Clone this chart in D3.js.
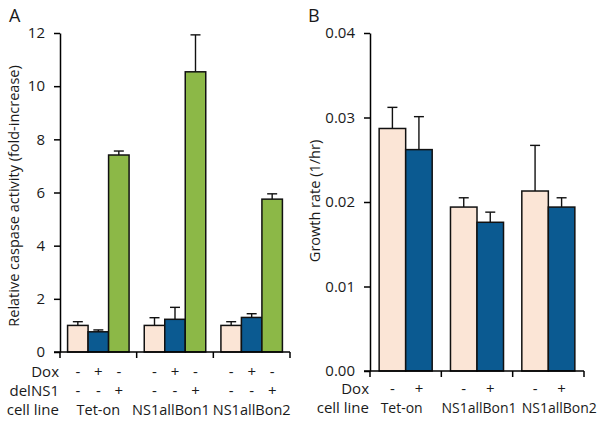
<html>
<head>
<script src="https://d3js.org/d3.v7.min.js"></script>
<style>
body{margin:0;background:#fff;}
text{font-family:"Open Sans",sans-serif;fill:#1a1a1a;}
</style>
</head>
<body>
<script>
// panel A data
var groups=["Tet-on","NS1allBon1","NS1allBon2"];
var doxA=["-","+","-"];
var delNS1=["-","-","+"];
var caspase=[[1.0,0.76,7.41],[1.0,1.23,10.54],[1.0,1.30,5.75]];
var caspaseErr=[[0.14,0.07,0.15],[0.29,0.45,1.39],[0.14,0.14,0.20]];
var ticksA=[0,2,4,6,8,10,12];
// panel B data
var doxB=["-","+"];
var growth=[[0.0287,0.0262],[0.0194,0.0176],[0.0213,0.0194]];
var growthErr=[[0.0025,0.0039],[0.0011,0.0012],[0.0054,0.0011]];
var ticksB=[0,0.01,0.02,0.03,0.04];

var colors=["#FBE5D6","#0B5A91","#8CB847"];

var svg=d3.select("body").append("svg").attr("width",599).attr("height",423);

function panel(o){
	var g=svg.append("g");
	var y=d3.scaleLinear().domain(o.domain).range([o.y0,o.y1]);
	var x=d3.scaleBand().domain(groups).range([o.x0,o.x1]);
	var inner=d3.scaleBand().domain(d3.range(o.data[0].length)).range([0,x.bandwidth()]).paddingOuter(o.pad);

	// bars
	groups.forEach(function(gname,gi){
		var gg=g.append("g").attr("transform","translate("+x(gname)+",0)");
		o.data[gi].forEach(function(v,i){
			var bx=inner(i),bw=inner.bandwidth(),cx=bx+bw/2;
			var top=y(v+o.err[gi][i]);
			gg.append("line").attr("x1",cx).attr("x2",cx).attr("y1",y(v)).attr("y2",top)
				.attr("stroke","#111").attr("stroke-width",1.4);
			gg.append("line").attr("x1",cx-5).attr("x2",cx+5).attr("y1",top).attr("y2",top)
				.attr("stroke","#111").attr("stroke-width",1.4);
			gg.append("rect").attr("x",bx).attr("width",bw).attr("y",y(v)).attr("height",y(0)-y(v))
				.attr("fill",colors[i]).attr("stroke","#111").attr("stroke-width",1.5);
		});
	});

	// axes
	var yAxis=d3.axisLeft(y).tickValues(o.ticks).tickFormat(o.fmt).tickSize(6).tickSizeOuter(0).tickPadding(9);
	var ya=g.append("g").attr("transform","translate("+o.x0+",0)").call(yAxis);
	ya.selectAll("path,line").attr("stroke","#000").attr("stroke-width",1.5);
	ya.selectAll("text").style("font-size","15px").attr("fill","#1a1a1a");

	var xa=g.append("g").attr("transform","translate(0,"+o.y0+")");
	xa.append("line").attr("x1",o.x0-6).attr("x2",o.x1).attr("y1",0).attr("y2",0).attr("stroke","#000").attr("stroke-width",1.5);
	var bounds=groups.map(function(d){return x(d);}).concat([o.x1]);
	xa.selectAll("line.t").data(bounds).enter().append("line").attr("class","t")
		.attr("x1",d=>d).attr("x2",d=>d).attr("y1",0).attr("y2",6).attr("stroke","#000").attr("stroke-width",1.5);

	// y title
	g.append("text").attr("transform","translate("+o.titleX+","+o.titleY+") rotate(-90)")
		.attr("text-anchor","middle").style("font-size","14.5px").text(o.title);

	// panel letter
	g.append("text").attr("x",o.letterX).attr("y",22).style("font-size","18px").text(o.letter);

	// sign rows
	o.rows.forEach(function(r,ri){
		var by=o.rowY[ri];
		g.append("text").attr("x",o.labelX).attr("y",by).attr("text-anchor","end").style("font-size","15px").text(r.name);
		if(r.signs){
			groups.forEach(function(gname){
				r.signs.forEach(function(s,i){
					g.append("text").attr("x",x(gname)+inner(i)+inner.bandwidth()/2).attr("y",by)
						.attr("text-anchor","middle").style("font-size","15px").text(s);
				});
			});
		}else{
			groups.forEach(function(gname,gi){
				g.append("text").attr("x",x(gname)+x.bandwidth()/2+o.labelDx[gi]).attr("y",by)
					.attr("text-anchor","middle").style("font-size",o.catSize).text(gname);
			});
		}
	});
}

panel({
	domain:[0,12],y0:352,y1:33,x0:60,x1:290,pad:0.37,
	data:caspase,err:caspaseErr,ticks:ticksA,fmt:d3.format("d"),
	title:"Relative caspase activity (fold-increase)",titleX:19,titleY:196,
	letter:"A",letterX:9,labelX:59,
	rows:[{name:"Dox",signs:doxA},{name:"delNS1",signs:delNS1},{name:"cell line"}],
	rowY:[377,396,415],labelDx:[0,-4,0],catSize:"14.5px"
});

panel({
	domain:[0,0.04],y0:371,y1:33,x0:370,x1:584,pad:0.345,
	data:growth,err:growthErr,ticks:ticksB,fmt:d3.format(".2f"),
	title:"Growth rate (1/hr)",titleX:320,titleY:201,
	letter:"B",letterX:308,labelX:369,
	rows:[{name:"Dox",signs:doxB},{name:"cell line"}],
	rowY:[394,413],labelDx:[-4,2,11],catSize:"14px"
});
</script>
</body>
</html>
